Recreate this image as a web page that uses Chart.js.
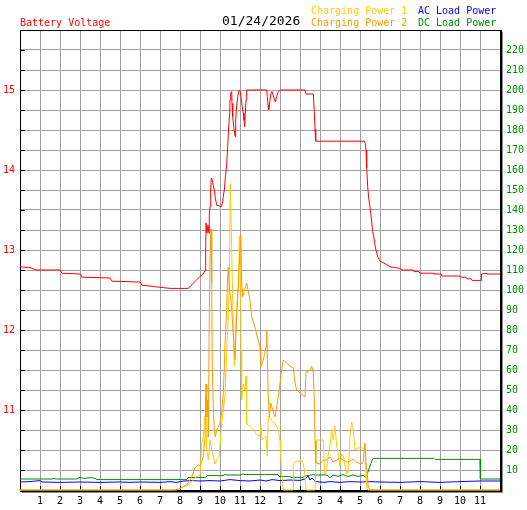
<!DOCTYPE html>
<html>
<head>
<meta charset="utf-8">
<script src="https://cdn.jsdelivr.net/npm/chart.js@4.4.1/dist/chart.umd.min.js"></script>
<style>
  body { margin:0; background:#ffffff; }
  #wrap { position:relative; width:527px; height:510px; }
  #myChart { position:absolute; left:0; top:0; }
  .lbl { position:absolute; font-family:'DejaVu Sans Mono', monospace; font-size:10px; line-height:10px; white-space:pre; }
</style>
</head>
<body>
<div id="wrap">
  <canvas id="myChart" width="527" height="510"></canvas>
  <span class="lbl" style="left:20px; top:18px; color:#ff0000;">Battery Voltage</span>
  <span class="lbl" style="left:222px; top:14px; color:#000000; font-size:13px; line-height:13px;">01/24/2026</span>
  <span class="lbl" style="left:311px; top:6px; color:#ffcc00;">Charging Power 1</span>
  <span class="lbl" style="left:311px; top:18px; color:#ff9900;">Charging Power 2</span>
  <span class="lbl" style="left:418px; top:6px; color:#0000ff;">AC Load Power</span>
  <span class="lbl" style="left:418px; top:18px; color:#008c00;">DC Load Power</span>
</div>
<script>
// Hour of day (0 = midnight) and values.
var voltHours = [0, 0.5, 0.8, 2.0, 2.1, 3.0, 3.1, 4.5, 4.6, 6.0, 6.1, 7.5, 8.4, 8.5, 8.65, 8.8, 9.0, 9.15, 9.25,
  9.285, 9.3, 9.35, 9.4, 9.45, 9.465, 9.5, 9.535, 9.565, 9.615, 9.665, 9.715, 9.765, 9.835, 9.965, 10.065,
  10.115, 10.165, 10.215, 10.265, 10.335, 10.385, 10.435, 10.485, 10.5, 10.535, 10.585, 10.6, 10.635, 10.685,
  10.715, 10.75, 10.785, 10.815, 10.865, 10.915, 10.965, 11.015, 11.065, 11.115, 11.165, 11.2, 11.235, 11.265,
  11.3, 11.335, 12.335, 12.365, 12.4, 12.435, 12.5, 12.55, 12.6, 12.65, 12.7, 12.765, 12.835, 12.915, 13.0,
  14.25, 14.3, 14.665, 14.715, 14.75, 14.785, 17.215, 17.265, 17.3, 17.335, 17.385, 17.435, 17.485, 17.535,
  17.585, 17.635, 17.7, 17.765, 17.835, 17.915, 18.0, 18.1, 18.3, 18.5, 19.0, 19.1, 19.65, 19.7, 19.95, 20.0,
  20.65, 20.7, 21.05, 21.1, 22.0, 22.05, 22.3, 22.35, 22.55, 22.6, 23.05, 23.075, 23.3, 23.35, 24.0];
var voltValues = [12.79, 12.78, 12.75, 12.75, 12.71, 12.70, 12.66, 12.65, 12.61, 12.60, 12.56, 12.52, 12.52, 12.54,
  12.58, 12.62, 12.67, 12.70, 12.74, 13.04, 13.34, 13.21, 13.31, 13.21, 13.46, 13.54, 13.75, 13.90, 13.875,
  13.81, 13.75, 13.65, 13.56, 13.55, 13.54, 13.58, 13.67, 13.75, 13.90, 14.08, 14.29, 14.54, 14.71, 14.875,
  14.96, 14.98, 14.83, 14.67, 14.54, 14.50, 14.42, 14.625, 14.75, 14.875, 14.96, 15.0, 14.98, 14.875, 14.79,
  14.71, 14.625, 14.54, 14.71, 14.875, 15.0, 15.0, 14.92, 14.81, 14.75, 14.875, 14.96, 14.98, 14.94, 14.90,
  14.85, 14.92, 14.98, 15.0, 15.0, 14.95, 14.95, 14.73, 14.51, 14.36, 14.36, 14.33, 14.25, 14.03, 13.79, 13.65,
  13.56, 13.46, 13.35, 13.23, 13.15, 13.04, 12.96, 12.90, 12.86, 12.85, 12.82, 12.79, 12.77, 12.75, 12.75,
  12.73, 12.73, 12.71, 12.71, 12.70, 12.70, 12.675, 12.675, 12.66, 12.66, 12.64, 12.64, 12.62, 12.62, 12.70,
  12.71, 12.70, 12.70];

var cp1Hours = [0, 7.8, 8.0, 8.165, 8.5, 8.835, 9.0, 9.085, 9.165, 9.25, 9.285, 9.335, 9.415, 9.465, 9.5, 9.585,
  9.665, 9.75, 9.835, 9.965, 10.035, 10.085, 10.165, 10.25, 10.335, 10.415, 10.465, 10.515, 10.585, 10.635,
  10.665, 10.715, 10.75, 10.8, 10.865, 10.935, 10.965, 11.0, 11.035, 11.05, 11.085, 11.165, 11.25, 11.3, 11.335,
  11.5, 11.665, 11.835, 12.0, 12.05, 12.1, 12.3, 12.365, 12.415, 12.665, 12.835, 12.915, 13.0, 13.035, 13.085,
  13.135, 13.165, 13.65, 13.665, 13.75, 14.085, 14.165, 14.25, 14.3, 14.75, 14.835, 15.165, 15.2, 15.25, 15.335,
  15.415, 15.5, 15.585, 15.665, 15.75, 15.835, 15.915, 16.0, 16.085, 16.165, 16.335, 16.415, 16.5, 16.585,
  16.665, 16.75, 16.835, 17.25, 17.3, 17.335, 17.4, 24.0];
var cp1Values = [0, 0, 0.8, 1.7, 3.3, 6.7, 7.5, 23, 27, 37, 47, 20, 15, 20, 25, 20, 17, 13, 15, 17, 27, 33, 40, 47,
  70, 87, 103, 153, 120, 95, 78, 62, 70, 87, 95, 103, 127, 120, 103, 70, 45, 53, 50, 57, 33, 32, 30, 27.5, 27,
  33, 25, 27, 17, 37, 34, 32, 30, 25, 18, 8, 5, 0, 0, 13, 14, 15, 13, 8, 0, 0, 25, 25, 15, 8, 10, 18, 22, 30, 25,
  32, 22, 18, 12, 18, 17, 8, 10, 27, 34, 30, 20, 21, 21, 8, 1, 0, 0];

var cp2Hours = [0, 7.7, 7.915, 8.335, 8.585, 8.75, 8.915, 9.0, 9.165, 9.25, 9.3, 9.335, 9.385, 9.415, 9.465, 9.5,
  9.55, 9.585, 9.615, 9.665, 9.715, 9.765, 9.835, 9.915, 10.0, 10.085, 10.165, 10.215, 10.265, 10.335, 10.365,
  10.415, 10.475, 10.55, 10.65, 10.75, 10.825, 10.9, 10.975, 11.035, 11.085, 11.135, 11.225, 11.335, 11.4, 11.5,
  11.585, 11.75, 11.865, 12.0, 12.035, 12.165, 12.3, 12.335, 12.365, 12.415, 12.465, 12.535, 12.635, 12.75,
  12.835, 12.915, 13.0, 13.085, 13.165, 13.335, 13.5, 13.665, 13.75, 13.835, 14.0, 14.25, 14.3, 14.5, 14.585,
  14.665, 14.715, 14.75, 14.785, 15.0, 15.165, 15.335, 15.5, 15.65, 15.835, 16.0, 16.165, 16.335, 16.5, 16.665,
  16.835, 17.0, 17.15, 17.25, 17.3, 17.35, 17.415, 17.5, 24.0];
var cp2Values = [0, 0, 0.3, 2.5, 6.5, 11, 12.5, 12, 16.5, 26.5, 53, 36.5, 45, 26.5, 86.5, 115, 130.5, 103.5, 61.5,
  41.5, 30, 26.5, 30, 31.5, 33.5, 38.5, 48.5, 61.5, 76.5, 90, 103.5, 111.5, 100, 95, 80, 65, 85, 100, 115, 127.5,
  103.5, 96.5, 100, 103.5, 100, 95, 86.5, 81.5, 76.5, 71.5, 61.5, 65, 71.5, 80, 66.5, 46.5, 36.5, 43.5, 40, 36.5,
  41.5, 46.5, 53.5, 60, 65, 63.5, 62, 61, 53.5, 50, 48.5, 46.5, 59, 60, 62, 59, 45, 24.5, 13.5, 13, 15, 15, 16.5,
  14, 15, 16, 15, 14, 14.5, 15.5, 14, 13, 13.5, 23.5, 13.5, 10, 1.5, 0, 0];

var acHours = [0, 0.5, 1.0, 1.1, 2, 3, 4, 5, 5.5, 6, 7, 7.5, 7.8, 8.2, 8.6, 9, 9.5, 10, 10.5, 11, 11.5, 12, 12.3,
  12.6, 13, 13.5, 14, 14.25, 14.4, 14.5, 14.6, 14.8, 15.2, 15.5, 16, 16.5, 17, 17.5, 18, 19, 20, 21, 22, 23, 24];
var acValues = [4.0, 4.2, 4.7, 4.0, 3.8, 4.0, 3.8, 4.0, 3.8, 4.0, 3.8, 4.2, 3.8, 4.5, 4.7, 4.5, 4.7, 4.5, 5.2, 4.7,
  4.5, 5.0, 4.5, 5.2, 4.7, 5.0, 4.8, 5.5, 7.0, 5.0, 6.0, 4.2, 3.8, 4.2, 3.8, 4.2, 4.0, 4.2, 4.0, 3.8, 4.2, 3.8,
  4.2, 4.5, 4.5];

var dcHours = [0, 1.6, 1.7, 1.8, 2.85, 2.95, 3.25, 3.5, 3.75, 3.85, 8.35, 8.4, 9.3, 9.35, 10.15, 10.25, 10.35, 11.0,
  11.15, 11.25, 12.15, 12.9, 12.95, 13.5, 13.55, 14.15, 14.25, 14.65, 14.75, 15.35, 15.5, 15.65, 15.9, 16.15,
  16.4, 16.65, 16.9, 17.15, 17.3, 17.45, 17.55, 17.65, 20.7, 20.75, 23.0, 23.02, 24.0];
var dcValues = [5.5, 5.5, 5.8, 5.5, 5.5, 6.2, 5.8, 6.2, 5.8, 5.2, 5.2, 6.3, 6.3, 7.2, 7.2, 7.8, 7.5, 7.5, 8.0, 7.7,
  7.7, 7.7, 6.7, 6.7, 6.3, 6.3, 7.0, 7.7, 7.5, 7.5, 6.2, 7.5, 6.8, 7.7, 6.7, 7.5, 6.8, 7.3, 6.3, 10.5, 13.3, 15.8,
  15.8, 15.3, 15.3, 5.5, 5.5];

// x tick labels: 1..12 then 1..11
var hourLabels = ['', '1', '2', '3', '4', '5', '6', '7', '8', '9', '10', '11', '12',
  '1', '2', '3', '4', '5', '6', '7', '8', '9', '10', '11', ''];

function toPoints(xs, ys) {
  var pts = [];
  for (var i = 0; i < xs.length; i++) {
    pts.push({x: xs[i], y: ys[i]});
  }
  return pts;
}

function lineSet(label, xs, ys, color, axis, order) {
  return {
    label: label,
    data: toPoints(xs, ys),
    borderColor: color,
    borderWidth: 1,
    pointRadius: 0,
    tension: 0,
    fill: false,
    yAxisID: axis,
    order: order,
    clip: 3
  };
}

var FONT = {family: "'DejaVu Sans Mono', monospace", size: 10};

// Black frame with inside ticks, drawn under the lines.
var framePlugin = {
  id: 'frame',
  beforeDatasetsDraw: function(chart) {
    var c = chart.ctx;
    var a = chart.chartArea;
    var x = chart.scales.x;
    var y = chart.scales.y;
    c.save();
    c.strokeStyle = '#000000';
    c.lineWidth = 1;
    c.beginPath();
    // left ticks
    for (var v = 10.25; v < 15.75; v += 0.25) {
      var py = Math.round(y.getPixelForValue(v)) + 0.5;
      c.moveTo(a.left, py);
      c.lineTo(a.left + 5, py);
    }
    // bottom ticks
    for (var h = 1; h < 24; h++) {
      var px = Math.round(x.getPixelForValue(h)) + 0.5;
      c.moveTo(px, a.bottom - 4);
      c.lineTo(px, a.bottom);
    }
    c.stroke();
    c.beginPath();
    c.moveTo(a.left + 0.5, a.bottom);
    c.lineTo(a.left + 0.5, a.top + 0.5);
    c.lineTo(a.right, a.top + 0.5);
    c.stroke();
    c.fillStyle = '#000000';
    c.fillRect(a.right, a.top, 2, a.bottom - a.top + 2);
    c.fillRect(a.left, a.bottom, a.right - a.left + 2, 2);
    c.fillStyle = '#8a8a8a';
    c.fillRect(a.right + 2, a.top + 2, 1, a.bottom - a.top + 1);
    c.fillRect(a.left + 2, a.bottom + 2, a.right - a.left + 1, 1);
    c.restore();
  }
};

var ctx = document.getElementById('myChart');
var myChart = new Chart(ctx, {
  type: 'line',
  data: {
    datasets: [
      lineSet('Battery Voltage', voltHours, voltValues, '#ff0000', 'y', 0),
      lineSet('Charging Power 2', cp2Hours, cp2Values, '#ff9900', 'y1', 1),
      lineSet('Charging Power 1', cp1Hours, cp1Values, '#ffcc00', 'y1', 2),
      lineSet('AC Load Power', acHours, acValues, '#0000ff', 'y1', 3),
      lineSet('DC Load Power', dcHours, dcValues, '#008c00', 'y1', 4)
    ]
  },
  options: {
    responsive: false,
    animation: false,
    events: [],
    layout: {padding: {top: 30, left: 0, right: 0, bottom: 0}},
    plugins: {
      legend: {display: false},
      tooltip: {enabled: false}
    },
    scales: {
      x: {
        type: 'linear',
        min: 0,
        max: 24,
        afterFit: function(s) { s.height = 20; },
        border: {display: false},
        grid: {color: '#a0a0a0', lineWidth: 1, drawTicks: false},
        ticks: {
          stepSize: 1,
          autoSkip: false,
          maxRotation: 0,
          padding: 5,
          color: '#000000',
          font: FONT,
          callback: function(v) { return hourLabels[v]; }
        }
      },
      y: {
        position: 'left',
        min: 10,
        max: 15.75,
        afterFit: function(s) { s.width = 20; },
        border: {display: false},
        grid: {color: '#a0a0a0', lineWidth: 1, drawTicks: false},
        ticks: {
          stepSize: 0.25,
          autoSkip: false,
          padding: 5,
          color: '#ff0000',
          font: FONT,
          callback: function(v) { return (Number.isInteger(v) && v > 10) ? String(v) : ''; }
        }
      },
      y1: {
        position: 'right',
        min: 0,
        max: 230,
        afterFit: function(s) { s.width = 27; },
        border: {display: false},
        grid: {display: false, drawTicks: false},
        ticks: {
          stepSize: 10,
          autoSkip: false,
          padding: 6,
          color: '#008c00',
          font: FONT,
          callback: function(v) { return (v >= 10 && v <= 220) ? String(v) : ''; }
        }
      }
    }
  },
  plugins: [framePlugin]
});
</script>
</body>
</html>
